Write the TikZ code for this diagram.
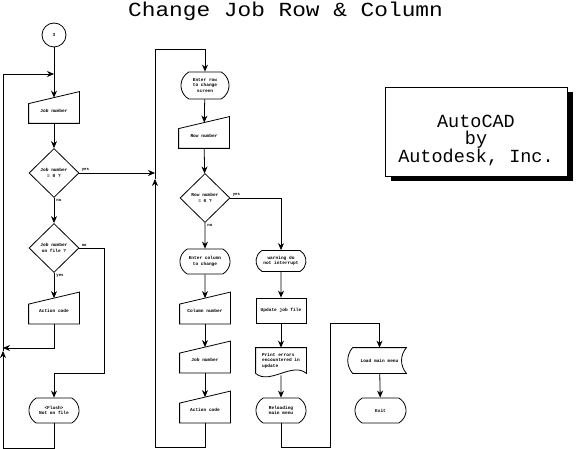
\documentclass[tikz,border=0pt]{standalone}
\usepackage{fontspec}
\setmainfont{Liberation Mono}
\usetikzlibrary{arrows.meta,shapes.geometric,shapes.misc,shadows}

\begin{document}
\begin{tikzpicture}[x=1pt,y=-1pt,line width=0.8pt,
	every node/.style={font=\fontsize{4.5}{5.5}\selectfont\bfseries,align=center,inner sep=0pt},
	arr/.style={-{Stealth[length=7pt,width=6pt]}},
	term/.style={draw,rounded rectangle,rounded rectangle arc length=120,minimum width=50pt,minimum height=25pt},
	procbox/.style={draw,rectangle,minimum width=50pt,minimum height=25pt},
	decide/.style={draw,diamond,minimum width=50pt,minimum height=49pt},
	manual/.style={rectangle,minimum width=50pt,minimum height=25pt},
	lbl/.style={font=\fontsize{4}{5}\selectfont\bfseries}]
	\useasboundingbox (0,0) rectangle (576,449);

	% Title
	\node[font=\fontsize{20}{24}\selectfont,xscale=1.14,anchor=base] (title) at (285.5,17) {Change Job Row \& Column};

	% Left column
	\node[draw,circle,minimum size=24pt] (c3) at (54,35) {3};
	\node[manual] (jobnum1) at (54,110.5) {Job number};
	\node[decide] (d1) at (54,173) {Job number\\= 0 ?};
	\node[decide] (d2) at (54,248) {Job number\\on file ?};
	\node[manual] (act1) at (54,311) {Action code};
	\node[term] (flash) at (54,410.5) {<Flash>\\Not on file};

	% Middle column
	\node[term,minimum width=48pt,minimum height=27pt] (enterrow) at (205,85.5) {Enter row\\to change\\screen};
	\node[manual] (rownum) at (204,135.5) {Row number};
	\node[decide] (d3) at (205,198) {Row number\\= 0 ?};
	\node[term] (entercol) at (205,261.5) {Enter column\\to change};
	\node[manual] (colnum) at (205,311) {Column number};
	\node[manual] (jobnum2) at (205,360) {Job number};
	\node[manual] (act2) at (205,410) {Action code};

	% Right column
	\node[term,minimum height=21pt] (warn) at (281,261) {warning do\\not interrupt};
	\node[procbox] (update) at (281,310.5) {Update job file};
	\node[rectangle,minimum width=50pt,minimum height=25pt,align=left] (prterr) at (281,360.5) {Print errors\\encountered in\\update};
	\node[term] (reload) at (281,410.5) {Reloading\\main menu};
	\node[rectangle,minimum width=53pt,minimum height=25pt] (loadmm) at (379.5,360.5) {Load main menu};
	\node[term,minimum width=51pt] (exit) at (380.5,410.5) {Exit};

	% Manual input outlines
	\foreach \n in {jobnum1,act1,rownum,colnum,jobnum2,act2}
		\draw (\n.south west) -- (\n.south east) -- ([yshift=6pt]\n.north east)
			-- ([yshift=-6pt]\n.north west) -- cycle;

	% Document and stored data outlines
	\draw (prterr.south west) -- (prterr.north west) -- (prterr.north east) -- (prterr.south east)
		.. controls ([xshift=-14pt,yshift=12pt]prterr.south east) and ([xshift=14pt,yshift=-12pt]prterr.south west) .. (prterr.south west);
	\draw (loadmm.north west) -- (loadmm.north east) to[bend right=40] (loadmm.south east)
		-- (loadmm.south west) to[bend left=40] (loadmm.north west);

	% AutoCAD box
	\draw[fill=white,drop shadow={shadow xshift=6pt,shadow yshift=-5pt,fill=black,opacity=1}] (385,87) rectangle (567,176);
	\node[font=\fontsize{18.5}{17.5}\selectfont] (acad) at (476,140) {AutoCAD\\by\\Autodesk, Inc.};

	% Junctions
	\coordinate (j1) at (54,74);
	\coordinate (j2) at (155,173);
	\coordinate (j3) at (3,348);
	\coordinate (lup) at (3,351);
	\coordinate (mup) at (155,179);

	% Left connectors
	\draw[arr] (c3) -- (jobnum1);
	\draw[arr] (jobnum1) -- (d1);
	\draw[arr] (d1) -- (d2) node[lbl,pos=0.1,right=2pt] (no1) {no};
	\draw[arr] (d2) -- (act1) node[lbl,pos=0.1,right=2pt] (yes2) {yes};
	\draw[arr] (d2) -| (104,373) -| (flash);
	\node[lbl,anchor=south west] (no2) at ([xshift=2pt,yshift=1pt]d2.east) {no};
	\draw[arr] (act1) |- (j3);
	\draw[arr] (flash) |- (3,448) -- (lup);
	\draw[arr] (lup) |- (j1);

	% Middle connectors
	\draw[arr] (d1) -- (j2);
	\node[lbl,anchor=south west] (yes1) at ([xshift=2pt,yshift=1pt]d1.east) {yes};
	\draw[arr] (act2) |- (155,447) -- (mup);
	\draw[arr] (mup) -- (155,49) -| (enterrow);
	\draw[arr] (enterrow) -- (rownum);
	\draw[arr] (rownum) -- (d3);
	\draw[arr] (d3) -- (entercol) node[lbl,pos=0.1,right=2pt] (no3) {no};
	\draw[arr] (entercol) -- (colnum);
	\draw[arr] (colnum) -- (jobnum2);
	\draw[arr] (jobnum2) -- (act2);

	% Right connectors
	\draw[arr] (d3) -| (warn);
	\node[lbl,anchor=south west] (yes3) at ([xshift=2pt,yshift=1pt]d3.east) {yes};
	\draw[arr] (warn) -- (update);
	\draw[arr] (update) -- (prterr);
	\draw[arr] ([yshift=-2pt]prterr.south) -- (reload);
	\draw[arr] (reload) |- (330,447) -- (330,323) -| (loadmm);
	\draw[arr] (loadmm) -- (exit);

\end{tikzpicture}
\end{document}
